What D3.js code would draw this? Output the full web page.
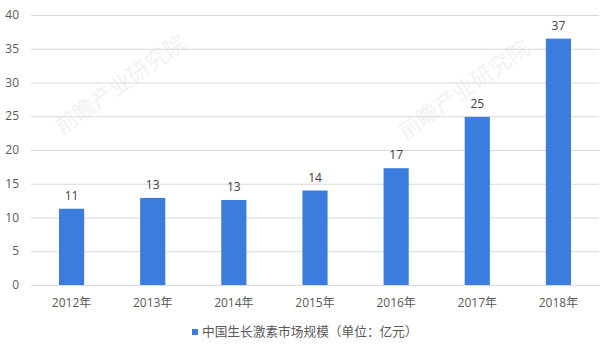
<!DOCTYPE html>
<html lang="zh">
<head>
<meta charset="UTF-8">
<title>中国生长激素市场规模</title>
<script src="https://d3js.org/d3.v7.min.js"></script>
<style>
    body { margin: 0; background: #fff; }
    svg { display: block; }
    text { font-family: "Open Sans", "Noto Sans CJK SC", sans-serif; }
</style>
</head>
<body>
<svg width="600" height="345"></svg>
<script>
    // data
    const years = ["2012年", "2013年", "2014年", "2015年", "2016年", "2017年", "2018年"];
    const values = [11.3, 12.9, 12.6, 14.0, 17.3, 24.9, 36.5];
    const labels = ["11", "13", "13", "14", "17", "25", "37"];
    const yTicks = [0, 5, 10, 15, 20, 25, 30, 35, 40];
    const legendText = "中国生长激素市场规模（单位：亿元）";

    const svg = d3.select("svg");
    const barColor = "#3b7ddf";

    const x = d3.scaleBand()
        .domain(years)
        .range([31, 599])
        .paddingInner(0.69)
        .paddingOuter(0.345);

    const y = d3.scaleLinear()
        .domain([0, 40])
        .range([285, 15]);

    // faint watermark
    const wm = svg.append("g").attr("fill", "#f1f2f5").attr("font-size", 22)
        .attr("font-family", "Noto Sans CJK SC");
    [[62, 135], [405, 140]].forEach(function (p) {
        wm.append("text")
            .attr("transform", "translate(" + p[0] + "," + p[1] + ") rotate(-35)")
            .text("前瞻产业研究院");
    });

    // gridlines
    svg.append("g")
        .selectAll("line")
        .data(yTicks)
        .enter()
        .append("line")
        .attr("x1", 31)
        .attr("x2", 599)
        .attr("y1", d => y(d) + 0.5)
        .attr("y2", d => y(d) + 0.5)
        .attr("stroke", "#d9d9d9")
        .attr("stroke-width", 1);

    // y tick labels
    svg.append("g")
        .selectAll("text")
        .data(yTicks)
        .enter()
        .append("text")
        .attr("x", 19)
        .attr("y", d => y(d))
        .attr("dy", "0.35em")
        .attr("text-anchor", "end")
        .attr("font-size", 12)
        .attr("fill", "#595959")
        .text(d => d);

    // bars
    svg.append("g")
        .selectAll("rect")
        .data(values)
        .enter()
        .append("rect")
        .attr("x", (d, i) => x(years[i]))
        .attr("y", d => y(d))
        .attr("width", x.bandwidth())
        .attr("height", d => y(0) - y(d))
        .attr("fill", barColor);

    // value labels
    svg.append("g")
        .selectAll("text")
        .data(values)
        .enter()
        .append("text")
        .attr("x", (d, i) => x(years[i]) + x.bandwidth() / 2)
        .attr("y", d => y(d) - 9)
        .attr("text-anchor", "middle")
        .attr("font-size", 12)
        .attr("fill", "#404040")
        .text((d, i) => labels[i]);

    // x axis labels
    svg.append("g")
        .selectAll("text")
        .data(years)
        .enter()
        .append("text")
        .attr("x", d => x(d) + x.bandwidth() / 2)
        .attr("y", 303)
        .attr("dy", "0.35em")
        .attr("text-anchor", "middle")
        .attr("font-size", 12)
        .attr("fill", "#595959")
        .text(d => d);

    // legend
    const lg = svg.append("g").attr("transform", "translate(192,332)");
    lg.append("rect")
        .attr("x", 0).attr("y", -3)
        .attr("width", 6).attr("height", 6)
        .attr("fill", barColor);
    lg.append("text")
        .attr("x", 10)
        .attr("dy", "0.35em")
        .attr("font-size", 12.7)
        .attr("fill", "#595959")
        .text(legendText);
</script>
</body>
</html>
